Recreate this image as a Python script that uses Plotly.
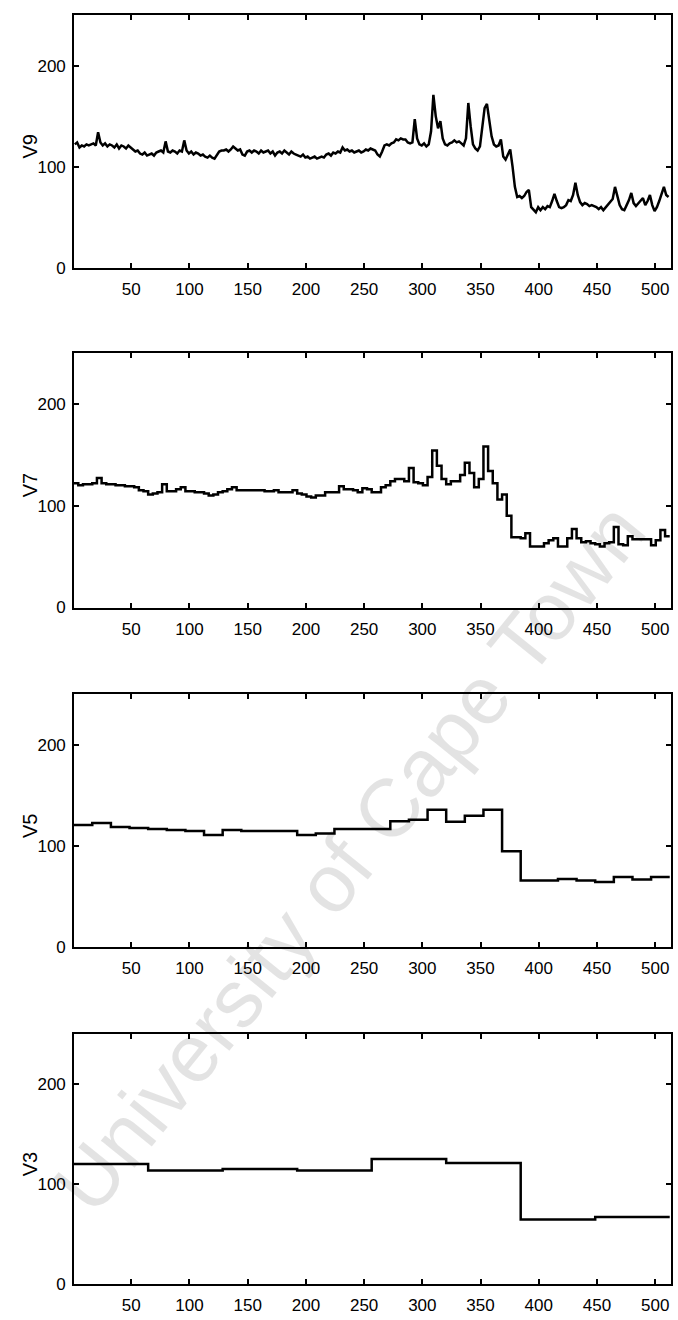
import plotly.graph_objects as go

# ---------------- data ----------------
# V9: one value per pair of samples (samples 2p+1, 2p+2), p = 0..255
v9_pairs = [
    122, 124, 119, 121, 120, 122, 121, 122, 123, 121, 134, 124, 121, 123, 120, 122,
    121, 119, 122, 118, 121, 120, 118, 121, 119, 117, 115, 116, 113, 112, 114, 111,
    112, 113, 111, 114, 115, 116, 114, 125, 115, 114, 116, 115, 113, 116, 115, 126,
    116, 113, 115, 112, 114, 113, 111, 112, 110, 109, 111, 109, 108, 111, 115, 116,
    116, 117, 115, 117, 120, 118, 116, 117, 112, 111, 115, 116, 114, 116, 115, 113,
    116, 114, 115, 116, 113, 115, 111, 114, 115, 113, 116, 114, 112, 115, 113, 112,
    111, 110, 112, 109, 110, 108, 109, 110, 108, 109, 110, 109, 112, 113, 111, 114,
    113, 115, 114, 119, 116, 117, 115, 116, 114, 115, 116, 114, 115, 117, 116, 118,
    117, 116, 112, 110, 115, 121, 122, 121, 123, 124, 127, 126, 128, 127, 127, 124,
    123, 124, 147, 128, 122, 121, 123, 120, 122, 135, 171, 150, 138, 145, 128, 122,
    121, 123, 124, 126, 124, 125, 123, 121, 128, 163, 140, 122, 118, 116, 120, 140,
    158, 162, 145, 130, 122, 120, 121, 127, 110, 107, 112, 117, 100, 80, 70, 71,
    69, 71, 75, 77, 60, 57, 55, 60, 57, 60, 58, 61, 60, 66, 73, 66,
    60, 59, 60, 62, 67, 66, 72, 84, 72, 65, 62, 64, 63, 61, 62, 61,
    60, 58, 60, 57, 60, 62, 65, 68, 80, 70, 62, 58, 57, 62, 67, 74,
    64, 61, 64, 66, 69, 62, 66, 72, 62, 56, 60, 66, 72, 80, 72, 70,
]

# V7: blocks of 4 samples (128 values)
v7_blocks = [
    122, 120, 121, 121, 122, 127, 122, 121, 121, 120, 120, 119, 119, 118, 115, 114,
    111, 112, 113, 121, 114, 114, 116, 118, 114, 114, 113, 113, 112, 110, 111, 113,
    114, 116, 118, 115, 115, 115, 115, 115, 115, 114, 114, 115, 113, 113, 113, 115,
    112, 111, 109, 108, 110, 110, 113, 113, 113, 119, 116, 116, 115, 113, 117, 116,
    113, 113, 118, 120, 124, 126, 126, 124, 137, 123, 122, 120, 128, 154, 139, 126,
    121, 124, 124, 130, 142, 132, 118, 126, 158, 134, 122, 106, 111, 90, 69, 69,
    68, 73, 60, 60, 60, 63, 66, 68, 60, 60, 68, 77, 68, 64, 65, 63,
    62, 60, 63, 64, 79, 62, 61, 70, 67, 67, 67, 67, 61, 66, 76, 70,
]

# V5: blocks of 16 samples (32 values)
v5_blocks = [
    121, 123, 119, 118, 117, 116, 115, 111, 116, 115, 115, 115, 111, 112.5, 117, 117,
    117, 124.5, 126, 136, 124, 130, 136, 95, 66, 66, 67.5, 66, 64.5, 69.5, 67, 69.5,
]

# V3: blocks of 64 samples (8 values)
v3_blocks = [120, 113.5, 115, 113.5, 125, 121, 64.5, 67]

panel_names = ["V9", "V7", "V5", "V3"]
x_ticks = [50, 100, 150, 200, 250, 300, 350, 400, 450, 500]
y_ticks = [0, 100, 200]

# ---------------- helpers ----------------
def block_xy(blocks, width):
    xs = [k * width + 0.5 for k in range(len(blocks))] + [len(blocks) * width + 0.5]
    ys = list(blocks) + [blocks[-1]]
    return xs, ys

v9_x = [2 * p + 1.5 for p in range(len(v9_pairs))]
v7_x, v7_y = block_xy(v7_blocks, 4)
v5_x, v5_y = block_xy(v5_blocks, 16)
v3_x, v3_y = block_xy(v3_blocks, 64)

series = [
    (v9_x, v9_pairs, "linear"),
    (v7_x, v7_y, "hv"),
    (v5_x, v5_y, "hv"),
    (v3_x, v3_y, "hv"),
]

# ---------------- layout (pixel geometry) ----------------
W, H = 678, 1320
m_t, m_b, m_l, m_r = 15, 35, 74, 5
plot_h = H - m_t - m_b
plot_w = W - m_l - m_r
panel_px = [(15, 268), (353, 608), (695, 948), (1035, 1285)]

def dom(top, bot):
    return [(H - m_b - bot) / plot_h, (H - m_b - top) / plot_h]

def px_x(x):
    return (x - m_l) / plot_w

def px_y(y):
    return (H - m_b - y) / plot_h

fig = go.Figure()
font_family = "Liberation Sans, Arial, sans-serif"

for idx, ((xs, ys, shape), name, (top, bot)) in enumerate(zip(series, panel_names, panel_px)):
    n = idx + 1
    xa = "x" if n == 1 else f"x{n}"
    ya = "y" if n == 1 else f"y{n}"
    fig.add_trace(go.Scatter(
        x=xs, y=ys, mode="lines", line=dict(color="black", width=2.5, shape=shape),
        xaxis=xa, yaxis=ya, showlegend=False, hoverinfo="skip", cliponaxis=True,
    ))
    xkey = "xaxis" if n == 1 else f"xaxis{n}"
    ykey = "yaxis" if n == 1 else f"yaxis{n}"
    fig.layout[xkey] = dict(
        domain=[0, 1], anchor=ya, range=[0.8, 513.6],
        tickmode="array", tickvals=x_ticks, ticktext=[str(t) for t in x_ticks],
        ticks="inside", ticklen=5, tickwidth=1.5, tickcolor="black",
        showline=True, linecolor="black", linewidth=1.6, mirror="ticks",
        showgrid=False, zeroline=False,
        tickfont=dict(family=font_family, size=17, color="black"),
        ticklabelstandoff=5,
    )
    fig.layout[ykey] = dict(
        domain=dom(top, bot), anchor=xa, range=[0, 250],
        tickmode="array", tickvals=y_ticks, ticktext=[str(t) for t in y_ticks],
        ticks="inside", ticklen=5, tickwidth=1.5, tickcolor="black",
        showline=True, linecolor="black", linewidth=1.6, mirror="ticks",
        showgrid=False, zeroline=False,
        tickfont=dict(family=font_family, size=17, color="black"),
        ticklabelstandoff=3,
    )
    # y-axis label (rotated), placed beside the tick labels
    fig.add_annotation(
        text=name, xref="paper", yref="paper",
        x=px_x(30), y=px_y((top + bot) / 2 + 5),
        xanchor="center", yanchor="middle", showarrow=False, textangle=-90,
        font=dict(family=font_family, size=20, color="black"),
    )

# faint watermark across the lower panels
fig.add_annotation(
    text="University of Cape Town", xref="paper", yref="paper",
    x=px_x(350), y=px_y(858),
    xanchor="center", yanchor="middle",
    showarrow=False, textangle=-51,
    font=dict(family=font_family, size=82, color="rgba(0,0,0,0.11)"),
)

fig.update_layout(
    width=W, height=H,
    margin=dict(t=m_t, b=m_b, l=m_l, r=m_r),
    paper_bgcolor="white", plot_bgcolor="white",
    font=dict(family=font_family, color="black"),
)

fig.write_html("out.html")
